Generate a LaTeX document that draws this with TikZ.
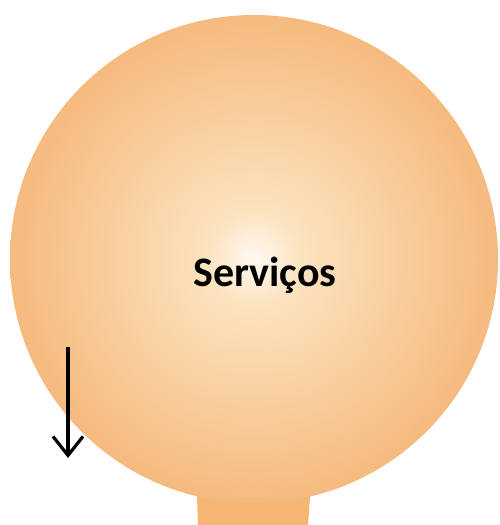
\documentclass[tikz,border=0pt]{standalone}
\usepackage{fontspec}
\setmainfont{Carlito}
\usetikzlibrary{arrows.meta,positioning}
\definecolor{balledge}{RGB}{234,150,72}
\definecolor{ballouter}{RGB}{240,160,85}
\definecolor{ballring}{RGB}{243,172,105}
\definecolor{ballmid}{RGB}{245,186,126}
\definecolor{balllight}{RGB}{252,226,190}
\definecolor{ballcore}{RGB}{255,249,242}
\definecolor{stemorange}{RGB}{245,182,115}
\pgfdeclareradialshading{servball}{\pgfpoint{0bp}{0bp}}{%
  color(0bp)=(ballcore); color(5bp)=(balllight);
  color(25bp)=(ballmid); color(37bp)=(ballring);
  color(45bp)=(ballouter); color(50bp)=(balledge)}
\begin{document}
\begin{tikzpicture}[x=1pt,y=-1pt]
  \useasboundingbox (0,0) rectangle (499,525);
  \fill[stemorange] (196,470) -- (312,470) -- (308,525) -- (198,525) -- cycle;
  \node[circle,inner sep=0pt,minimum size=488pt,shading=servball] (ball) at (254,259) {};
  \node[font=\bfseries\fontsize{42}{50}\selectfont] (servicos) at (265,275) {Serviços};
  \coordinate (arrowtop) at (68,347);
  \coordinate (arrowtip) at (68,458);
  \draw[-{Straight Barb[length=19pt,width=30pt]},line width=3.2pt] (arrowtop) -- (arrowtip);
\end{tikzpicture}
\end{document}
